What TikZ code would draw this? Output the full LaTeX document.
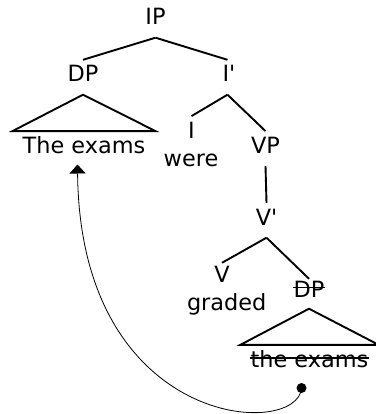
\documentclass[tikz,border=0pt]{standalone}
\usepackage{fontspec}
\setmainfont[Ligatures=TeXOff]{DejaVu Sans}
\usetikzlibrary{arrows.meta}
\tikzset{
  cat/.style={inner sep=0pt, text height=22pt, text depth=12.5pt, anchor=base, font=\fontsize{22.4}{26}\selectfont},
  word/.style={inner sep=0pt, text height=22pt, text depth=5pt, anchor=base, font=\fontsize{22.4}{26}\selectfont},
  branch/.style={line width=1.9pt},
  strike/.style={line width=1.5pt},
  move/.style={line width=0.8pt, -{Triangle[width=16pt,length=9pt]}},
}
\begin{document}
\begin{tikzpicture}[x=1pt,y=-1pt]
\useasboundingbox (0,0) rectangle (375,414);
% labels
\node[cat] (IP) at (155.5,25) {IP};
\node[cat] (DP1) at (83,82) {DP};
\node[cat] (Ibar) at (229,82) {I'};
\node[word] (w1) at (84,153.3) {The exams};
\node[cat] (I) at (191.5,138.3) {I};
\node[word] (were) at (191,166.7) {were};
\node[cat] (VP) at (265.5,153.3) {VP};
\node[cat] (Vbar) at (266.5,225) {V'};
\node[cat] (V) at (222,282) {V};
\node[word] (graded) at (226.7,310) {graded};
\node[cat] (DP2) at (309,297) {DP};
\node[word] (w2) at (309.5,367) {the exams};
% tree lines
\draw[branch] (IP.south) -- (DP1.north);
\draw[branch] (IP.south) -- ([xshift=-1.5pt]Ibar.north);
\draw[branch] ([xshift=-1.5pt]Ibar.south) -- (I.north);
\draw[branch] ([xshift=-1.5pt]Ibar.south) -- (VP.north);
\draw[branch] (VP.south) -- (Vbar.north);
\draw[branch] (Vbar.south) -- ([yshift=-3pt]V.north);
\draw[branch] (Vbar.south) -- ([yshift=-4pt]DP2.north);
% triangles
\draw[branch, line join=miter] ([xshift=-10pt]w1.north west) -- (DP1.south) -- ([xshift=10pt]w1.north east) -- cycle;
\draw[branch, line join=miter] ([xshift=-10pt]w2.north west) -- ([yshift=1pt]DP2.south) -- ([xshift=10pt]w2.north east) -- cycle;
% strike-throughs
\draw[strike] ([yshift=9.5pt]DP2.base west) -- ([yshift=9.5pt]DP2.base east);
\draw[strike] ([yshift=9pt]w2.base west) -- ([yshift=9pt]w2.base east);
% movement arrow
\node[circle, fill, inner sep=0pt, minimum size=10pt] (dot) at (301.5,388) {};
\coordinate (tgt) at (77.5,164.5);
\draw[move] (dot.center) .. controls (298,439) and (80,430) .. (tgt);
\end{tikzpicture}
\end{document}
